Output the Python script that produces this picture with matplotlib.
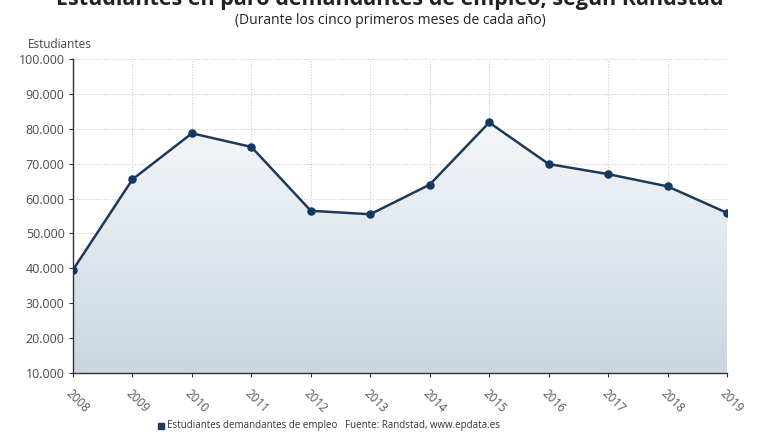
import matplotlib.pyplot as plt
import numpy as np
from matplotlib.colors import LinearSegmentedColormap

plt.rcParams['font.family'] = ['Open Sans', 'DejaVu Sans']

years = ['2008', '2009', '2010', '2011', '2012', '2013', '2014', '2015', '2016', '2017', '2018', '2019']
estudiantes = [39600, 65500, 78700, 74800, 56500, 55500, 64000, 81800, 69900, 67000, 63500, 55900]
yticks = [10000, 20000, 30000, 40000, 50000, 60000, 70000, 80000, 90000, 100000]
ytick_labels = ['10.000', '20.000', '30.000', '40.000', '50.000', '60.000', '70.000', '80.000', '90.000', '100.000']

line_col = '#1e3a56'
x = np.arange(len(years))

fig = plt.figure(figsize=(7.8, 4.4), dpi=100)
ax = fig.add_axes([73 / 780, 67 / 440, 654 / 780, 314 / 440])

ax.set_xlim(0, len(years) - 1)
ax.set_ylim(10000, 100000)

# gradient fill under the line, white on top, grey-blue at the bottom
fill = ax.fill_between(x, estudiantes, 10000, color='none', lw=0)
cmap = LinearSegmentedColormap.from_list('g', ['#ffffff', '#cbd6e1'])
grad = np.linspace(0, 1, 256).reshape(-1, 1)
img = ax.imshow(grad, cmap=cmap, aspect='auto', extent=[0, len(years) - 1, 10000, 100000],
                origin='upper', zorder=1)
img.set_clip_path(fill.get_paths()[0], transform=ax.transData)

ax.plot(x, estudiantes, color=line_col, lw=1.8, zorder=3)
ax.scatter(x, estudiantes, s=26, color='#123a60', zorder=4)

ax.set_xticks(x)
ax.set_xticklabels(years, rotation=-45, ha='left', va='top', rotation_mode='anchor',
                   fontsize=8.5, color='#555555')
ax.set_yticks(yticks)
ax.set_yticklabels(ytick_labels, fontsize=9, color='#4a4a4a')
ax.tick_params(axis='both', length=3, color='#333333', pad=3)
ax.tick_params(axis='x', pad=7)

ax.grid(True, color='#cccccc', linestyle=(0, (1, 1.5)), lw=0.8, zorder=0)
ax.set_axisbelow(True)
for s in ['top', 'right']:
    ax.spines[s].set_visible(False)
for s in ['left', 'bottom']:
    ax.spines[s].set_linestyle((0, (1, 1)))
    ax.spines[s].set_color('#333333')
    ax.spines[s].set_linewidth(1.0)

fig.text(0.5, 1.0, 'Estudiantes en paro demandantes de empleo, según Randstad',
         ha='center', va='center', fontsize=15.5, fontweight='bold', color='#222222')
fig.text(0.5, 1 - 21 / 440, '(Durante los cinco primeros meses de cada año)',
         ha='center', va='center', fontsize=10, color='#222222')
fig.text(28 / 780, 1 - 44 / 440, 'Estudiantes', ha='left', va='center', fontsize=8.5, color='#444444')

# legend / source
fig.patches.append(plt.Rectangle((158 / 780, 1 - 428.5 / 440), 6 / 780, 6 / 440,
                                 transform=fig.transFigure, color='#1e3a5f'))
fig.text(167 / 780, 1 - 425 / 440, 'Estudiantes demandantes de empleo',
         ha='left', va='center', fontsize=7.0, color='#333333')
fig.text(345 / 780, 1 - 425 / 440, 'Fuente: Randstad, www.epdata.es',
         ha='left', va='center', fontsize=7.0, color='#333333')

fig.savefig('out.png', dpi=100, facecolor='white')
